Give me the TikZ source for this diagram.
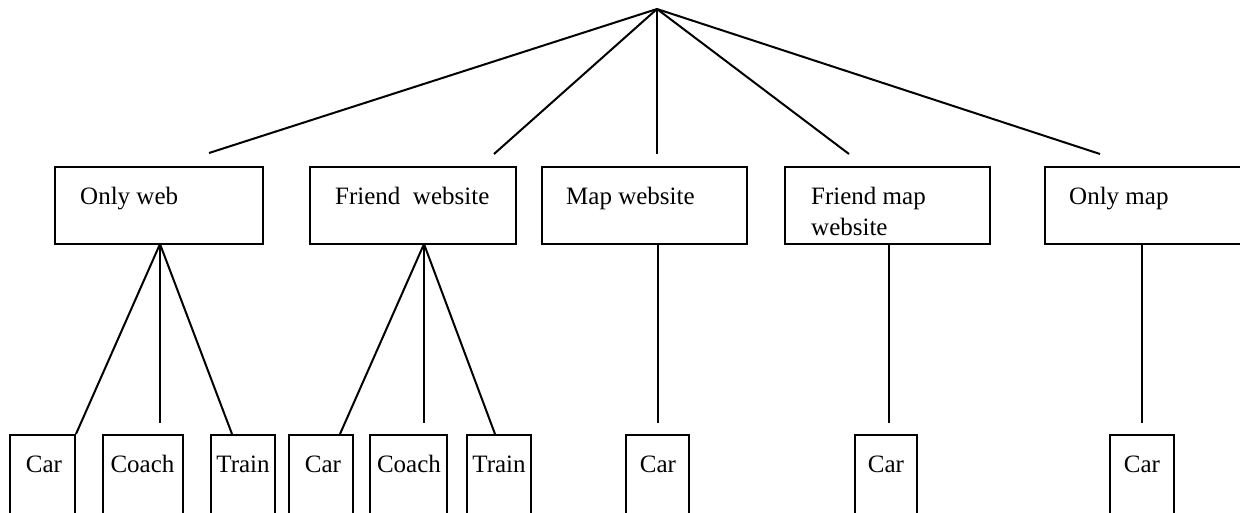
\documentclass[tikz,border=0pt]{standalone}
\usepackage{fontspec}
\setmainfont{Liberation Serif}
\begin{document}
\begin{tikzpicture}[x=1pt,y=-1pt,
  conn/.style={line width=2pt},
  topbox/.style={draw,line width=2pt,minimum height=77pt,inner sep=0pt},
  botbox/.style={draw,line width=2pt,minimum height=82pt,inner sep=0pt},
  txt/.style={font=\fontsize{25}{31}\selectfont,inner sep=0pt}]
\useasboundingbox (0,0) rectangle (1240,512);
% top level boxes
\node[topbox,minimum width=208pt] (ow) at (159,205.5) {};
\node[topbox,minimum width=206pt] (fw) at (413,205.5) {};
\node[topbox,minimum width=205pt] (mw) at (644.5,205.5) {};
\node[topbox,minimum width=205pt] (fm) at (887.5,205.5) {};
\node[topbox,minimum width=205pt] (om) at (1147.5,205.5) {};
\node[txt,anchor=base west] (owt) at (80,204) {Only web};
\node[txt,anchor=base west] (fwt) at (335,204) {Friend\ \ website};
\node[txt,anchor=base west] (mwt) at (566,204) {Map website};
\node[txt,anchor=north west,align=left] (fmt) at (811,187) {Friend map\\website};
\node[txt,anchor=base west] (omt) at (1069,204) {Only map};
% bottom boxes
\node[botbox,minimum width=65pt,anchor=north] (car1) at (42.5,434) {};
\node[botbox,minimum width=80pt,anchor=north] (coach1) at (143,434) {};
\node[botbox,minimum width=64pt,anchor=north] (train1) at (243,434) {};
\node[botbox,minimum width=64pt,anchor=north] (car2) at (321,434) {};
\node[botbox,minimum width=77pt,anchor=north] (coach2) at (408.5,434) {};
\node[botbox,minimum width=64pt,anchor=north] (train2) at (499,434) {};
\node[botbox,minimum width=63pt,anchor=north] (car3) at (657.5,434) {};
\node[botbox,minimum width=62pt,anchor=north] (car4) at (886,434) {};
\node[botbox,minimum width=64pt,anchor=north] (car5) at (1142,434) {};
\node[txt,anchor=base] (car1t) at (44,472) {Car};
\node[txt,anchor=base] (coach1t) at (142.5,472) {Coach};
\node[txt,anchor=base] (train1t) at (243,472) {Train};
\node[txt,anchor=base] (car2t) at (323,472) {Car};
\node[txt,anchor=base] (coach2t) at (409,472) {Coach};
\node[txt,anchor=base] (train2t) at (499,472) {Train};
\node[txt,anchor=base] (car3t) at (658,472) {Car};
\node[txt,anchor=base] (car4t) at (886,472) {Car};
\node[txt,anchor=base] (car5t) at (1142,472) {Car};
% connector points
\coordinate (apex) at (657,9);
\coordinate (e1) at (209,153);
\coordinate (e2) at (494,154);
\coordinate (e3) at (657,154);
\coordinate (e4) at (849,154);
\coordinate (e5) at (1100,154);
\coordinate (owb) at (160,244);
\coordinate (fwb) at (424,244);
\coordinate (mwb) at (658,244);
\coordinate (fmb) at (889,245);
\coordinate (omb) at (1142,244);
\coordinate (coach1e) at (160,423);
\coordinate (coach2e) at (424,423);
\coordinate (car3e) at (658,423);
\coordinate (car4e) at (889,423);
\coordinate (car5e) at (1142,423);
% connectors
\draw[conn] (apex) -- (e1);
\draw[conn] (apex) -- (e2);
\draw[conn] (apex) -- (e3);
\draw[conn] (apex) -- (e4);
\draw[conn] (apex) -- (e5);
\draw[conn] (owb) -- (car1.north east);
\draw[conn] (owb) -- (coach1e);
\draw[conn] (owb) -- ([xshift=-11pt]train1.north);
\draw[conn] (fwb) -- ([xshift=19pt]car2.north);
\draw[conn] (fwb) -- (coach2e);
\draw[conn] (fwb) -- ([xshift=-4pt]train2.north);
\draw[conn] (mwb) -- (car3e);
\draw[conn] (fmb) -- (car4e);
\draw[conn] (omb) -- (car5e);
\end{tikzpicture}
\end{document}
